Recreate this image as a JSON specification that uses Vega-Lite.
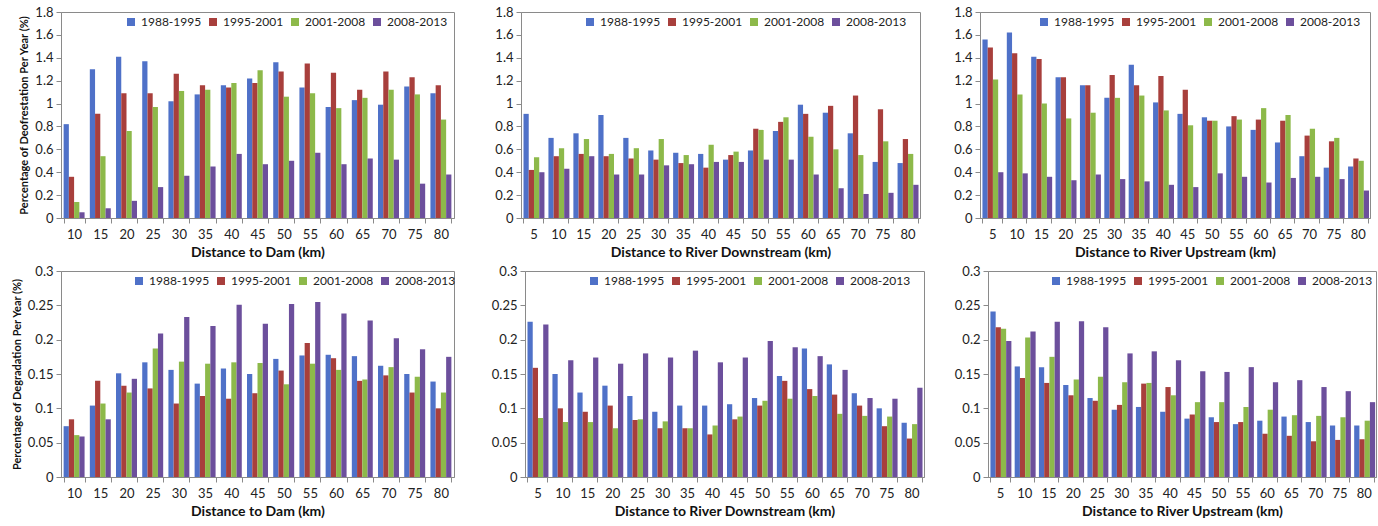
{
"$schema":"https://vega.github.io/schema/vega-lite/v6.json",
"padding":{"left":10,"top":5,"right":2,"bottom":5},
"datasets":{
"dam_def":[
{"d":10,"p":"1988-1995","v":0.82},{"d":10,"p":"1995-2001","v":0.36},{"d":10,"p":"2001-2008","v":0.14},{"d":10,"p":"2008-2013","v":0.05},
{"d":15,"p":"1988-1995","v":1.30},{"d":15,"p":"1995-2001","v":0.91},{"d":15,"p":"2001-2008","v":0.54},{"d":15,"p":"2008-2013","v":0.085},
{"d":20,"p":"1988-1995","v":1.41},{"d":20,"p":"1995-2001","v":1.09},{"d":20,"p":"2001-2008","v":0.76},{"d":20,"p":"2008-2013","v":0.15},
{"d":25,"p":"1988-1995","v":1.37},{"d":25,"p":"1995-2001","v":1.09},{"d":25,"p":"2001-2008","v":0.97},{"d":25,"p":"2008-2013","v":0.27},
{"d":30,"p":"1988-1995","v":1.02},{"d":30,"p":"1995-2001","v":1.26},{"d":30,"p":"2001-2008","v":1.11},{"d":30,"p":"2008-2013","v":0.37},
{"d":35,"p":"1988-1995","v":1.08},{"d":35,"p":"1995-2001","v":1.16},{"d":35,"p":"2001-2008","v":1.12},{"d":35,"p":"2008-2013","v":0.45},
{"d":40,"p":"1988-1995","v":1.16},{"d":40,"p":"1995-2001","v":1.14},{"d":40,"p":"2001-2008","v":1.18},{"d":40,"p":"2008-2013","v":0.56},
{"d":45,"p":"1988-1995","v":1.22},{"d":45,"p":"1995-2001","v":1.18},{"d":45,"p":"2001-2008","v":1.29},{"d":45,"p":"2008-2013","v":0.47},
{"d":50,"p":"1988-1995","v":1.36},{"d":50,"p":"1995-2001","v":1.28},{"d":50,"p":"2001-2008","v":1.06},{"d":50,"p":"2008-2013","v":0.50},
{"d":55,"p":"1988-1995","v":1.14},{"d":55,"p":"1995-2001","v":1.35},{"d":55,"p":"2001-2008","v":1.09},{"d":55,"p":"2008-2013","v":0.57},
{"d":60,"p":"1988-1995","v":0.97},{"d":60,"p":"1995-2001","v":1.27},{"d":60,"p":"2001-2008","v":0.96},{"d":60,"p":"2008-2013","v":0.47},
{"d":65,"p":"1988-1995","v":1.03},{"d":65,"p":"1995-2001","v":1.12},{"d":65,"p":"2001-2008","v":1.05},{"d":65,"p":"2008-2013","v":0.52},
{"d":70,"p":"1988-1995","v":0.99},{"d":70,"p":"1995-2001","v":1.28},{"d":70,"p":"2001-2008","v":1.12},{"d":70,"p":"2008-2013","v":0.51},
{"d":75,"p":"1988-1995","v":1.15},{"d":75,"p":"1995-2001","v":1.23},{"d":75,"p":"2001-2008","v":1.08},{"d":75,"p":"2008-2013","v":0.30},
{"d":80,"p":"1988-1995","v":1.09},{"d":80,"p":"1995-2001","v":1.16},{"d":80,"p":"2001-2008","v":0.86},{"d":80,"p":"2008-2013","v":0.38}
],
"down_def":[
{"d":5,"p":"1988-1995","v":0.91},{"d":5,"p":"1995-2001","v":0.42},{"d":5,"p":"2001-2008","v":0.53},{"d":5,"p":"2008-2013","v":0.40},
{"d":10,"p":"1988-1995","v":0.70},{"d":10,"p":"1995-2001","v":0.54},{"d":10,"p":"2001-2008","v":0.61},{"d":10,"p":"2008-2013","v":0.43},
{"d":15,"p":"1988-1995","v":0.74},{"d":15,"p":"1995-2001","v":0.56},{"d":15,"p":"2001-2008","v":0.69},{"d":15,"p":"2008-2013","v":0.54},
{"d":20,"p":"1988-1995","v":0.90},{"d":20,"p":"1995-2001","v":0.54},{"d":20,"p":"2001-2008","v":0.56},{"d":20,"p":"2008-2013","v":0.38},
{"d":25,"p":"1988-1995","v":0.70},{"d":25,"p":"1995-2001","v":0.52},{"d":25,"p":"2001-2008","v":0.61},{"d":25,"p":"2008-2013","v":0.38},
{"d":30,"p":"1988-1995","v":0.59},{"d":30,"p":"1995-2001","v":0.51},{"d":30,"p":"2001-2008","v":0.69},{"d":30,"p":"2008-2013","v":0.46},
{"d":35,"p":"1988-1995","v":0.57},{"d":35,"p":"1995-2001","v":0.48},{"d":35,"p":"2001-2008","v":0.55},{"d":35,"p":"2008-2013","v":0.47},
{"d":40,"p":"1988-1995","v":0.56},{"d":40,"p":"1995-2001","v":0.44},{"d":40,"p":"2001-2008","v":0.64},{"d":40,"p":"2008-2013","v":0.49},
{"d":45,"p":"1988-1995","v":0.51},{"d":45,"p":"1995-2001","v":0.55},{"d":45,"p":"2001-2008","v":0.58},{"d":45,"p":"2008-2013","v":0.49},
{"d":50,"p":"1988-1995","v":0.59},{"d":50,"p":"1995-2001","v":0.78},{"d":50,"p":"2001-2008","v":0.77},{"d":50,"p":"2008-2013","v":0.51},
{"d":55,"p":"1988-1995","v":0.76},{"d":55,"p":"1995-2001","v":0.84},{"d":55,"p":"2001-2008","v":0.88},{"d":55,"p":"2008-2013","v":0.51},
{"d":60,"p":"1988-1995","v":0.99},{"d":60,"p":"1995-2001","v":0.91},{"d":60,"p":"2001-2008","v":0.71},{"d":60,"p":"2008-2013","v":0.38},
{"d":65,"p":"1988-1995","v":0.92},{"d":65,"p":"1995-2001","v":0.98},{"d":65,"p":"2001-2008","v":0.60},{"d":65,"p":"2008-2013","v":0.26},
{"d":70,"p":"1988-1995","v":0.74},{"d":70,"p":"1995-2001","v":1.07},{"d":70,"p":"2001-2008","v":0.55},{"d":70,"p":"2008-2013","v":0.21},
{"d":75,"p":"1988-1995","v":0.49},{"d":75,"p":"1995-2001","v":0.95},{"d":75,"p":"2001-2008","v":0.67},{"d":75,"p":"2008-2013","v":0.22},
{"d":80,"p":"1988-1995","v":0.48},{"d":80,"p":"1995-2001","v":0.69},{"d":80,"p":"2001-2008","v":0.56},{"d":80,"p":"2008-2013","v":0.29}
],
"up_def":[
{"d":5,"p":"1988-1995","v":1.56},{"d":5,"p":"1995-2001","v":1.49},{"d":5,"p":"2001-2008","v":1.21},{"d":5,"p":"2008-2013","v":0.40},
{"d":10,"p":"1988-1995","v":1.62},{"d":10,"p":"1995-2001","v":1.44},{"d":10,"p":"2001-2008","v":1.08},{"d":10,"p":"2008-2013","v":0.39},
{"d":15,"p":"1988-1995","v":1.41},{"d":15,"p":"1995-2001","v":1.39},{"d":15,"p":"2001-2008","v":1.00},{"d":15,"p":"2008-2013","v":0.36},
{"d":20,"p":"1988-1995","v":1.23},{"d":20,"p":"1995-2001","v":1.23},{"d":20,"p":"2001-2008","v":0.87},{"d":20,"p":"2008-2013","v":0.33},
{"d":25,"p":"1988-1995","v":1.16},{"d":25,"p":"1995-2001","v":1.16},{"d":25,"p":"2001-2008","v":0.92},{"d":25,"p":"2008-2013","v":0.38},
{"d":30,"p":"1988-1995","v":1.05},{"d":30,"p":"1995-2001","v":1.25},{"d":30,"p":"2001-2008","v":1.05},{"d":30,"p":"2008-2013","v":0.34},
{"d":35,"p":"1988-1995","v":1.34},{"d":35,"p":"1995-2001","v":1.16},{"d":35,"p":"2001-2008","v":1.07},{"d":35,"p":"2008-2013","v":0.32},
{"d":40,"p":"1988-1995","v":1.01},{"d":40,"p":"1995-2001","v":1.24},{"d":40,"p":"2001-2008","v":0.94},{"d":40,"p":"2008-2013","v":0.29},
{"d":45,"p":"1988-1995","v":0.91},{"d":45,"p":"1995-2001","v":1.12},{"d":45,"p":"2001-2008","v":0.81},{"d":45,"p":"2008-2013","v":0.27},
{"d":50,"p":"1988-1995","v":0.88},{"d":50,"p":"1995-2001","v":0.85},{"d":50,"p":"2001-2008","v":0.85},{"d":50,"p":"2008-2013","v":0.39},
{"d":55,"p":"1988-1995","v":0.80},{"d":55,"p":"1995-2001","v":0.89},{"d":55,"p":"2001-2008","v":0.86},{"d":55,"p":"2008-2013","v":0.36},
{"d":60,"p":"1988-1995","v":0.77},{"d":60,"p":"1995-2001","v":0.86},{"d":60,"p":"2001-2008","v":0.96},{"d":60,"p":"2008-2013","v":0.31},
{"d":65,"p":"1988-1995","v":0.66},{"d":65,"p":"1995-2001","v":0.85},{"d":65,"p":"2001-2008","v":0.90},{"d":65,"p":"2008-2013","v":0.35},
{"d":70,"p":"1988-1995","v":0.54},{"d":70,"p":"1995-2001","v":0.72},{"d":70,"p":"2001-2008","v":0.78},{"d":70,"p":"2008-2013","v":0.36},
{"d":75,"p":"1988-1995","v":0.44},{"d":75,"p":"1995-2001","v":0.67},{"d":75,"p":"2001-2008","v":0.70},{"d":75,"p":"2008-2013","v":0.34},
{"d":80,"p":"1988-1995","v":0.45},{"d":80,"p":"1995-2001","v":0.52},{"d":80,"p":"2001-2008","v":0.50},{"d":80,"p":"2008-2013","v":0.24}
],
"dam_deg":[
{"d":10,"p":"1988-1995","v":0.074},{"d":10,"p":"1995-2001","v":0.084},{"d":10,"p":"2001-2008","v":0.061},{"d":10,"p":"2008-2013","v":0.059},
{"d":15,"p":"1988-1995","v":0.104},{"d":15,"p":"1995-2001","v":0.140},{"d":15,"p":"2001-2008","v":0.107},{"d":15,"p":"2008-2013","v":0.084},
{"d":20,"p":"1988-1995","v":0.151},{"d":20,"p":"1995-2001","v":0.133},{"d":20,"p":"2001-2008","v":0.123},{"d":20,"p":"2008-2013","v":0.143},
{"d":25,"p":"1988-1995","v":0.167},{"d":25,"p":"1995-2001","v":0.129},{"d":25,"p":"2001-2008","v":0.187},{"d":25,"p":"2008-2013","v":0.209},
{"d":30,"p":"1988-1995","v":0.156},{"d":30,"p":"1995-2001","v":0.107},{"d":30,"p":"2001-2008","v":0.168},{"d":30,"p":"2008-2013","v":0.233},
{"d":35,"p":"1988-1995","v":0.136},{"d":35,"p":"1995-2001","v":0.118},{"d":35,"p":"2001-2008","v":0.165},{"d":35,"p":"2008-2013","v":0.220},
{"d":40,"p":"1988-1995","v":0.158},{"d":40,"p":"1995-2001","v":0.114},{"d":40,"p":"2001-2008","v":0.167},{"d":40,"p":"2008-2013","v":0.251},
{"d":45,"p":"1988-1995","v":0.150},{"d":45,"p":"1995-2001","v":0.122},{"d":45,"p":"2001-2008","v":0.166},{"d":45,"p":"2008-2013","v":0.223},
{"d":50,"p":"1988-1995","v":0.172},{"d":50,"p":"1995-2001","v":0.155},{"d":50,"p":"2001-2008","v":0.135},{"d":50,"p":"2008-2013","v":0.252},
{"d":55,"p":"1988-1995","v":0.177},{"d":55,"p":"1995-2001","v":0.195},{"d":55,"p":"2001-2008","v":0.165},{"d":55,"p":"2008-2013","v":0.255},
{"d":60,"p":"1988-1995","v":0.178},{"d":60,"p":"1995-2001","v":0.173},{"d":60,"p":"2001-2008","v":0.156},{"d":60,"p":"2008-2013","v":0.238},
{"d":65,"p":"1988-1995","v":0.176},{"d":65,"p":"1995-2001","v":0.140},{"d":65,"p":"2001-2008","v":0.142},{"d":65,"p":"2008-2013","v":0.228},
{"d":70,"p":"1988-1995","v":0.162},{"d":70,"p":"1995-2001","v":0.148},{"d":70,"p":"2001-2008","v":0.160},{"d":70,"p":"2008-2013","v":0.202},
{"d":75,"p":"1988-1995","v":0.150},{"d":75,"p":"1995-2001","v":0.123},{"d":75,"p":"2001-2008","v":0.146},{"d":75,"p":"2008-2013","v":0.186},
{"d":80,"p":"1988-1995","v":0.139},{"d":80,"p":"1995-2001","v":0.100},{"d":80,"p":"2001-2008","v":0.123},{"d":80,"p":"2008-2013","v":0.175}
],
"down_deg":[
{"d":5,"p":"1988-1995","v":0.226},{"d":5,"p":"1995-2001","v":0.159},{"d":5,"p":"2001-2008","v":0.086},{"d":5,"p":"2008-2013","v":0.222},
{"d":10,"p":"1988-1995","v":0.150},{"d":10,"p":"1995-2001","v":0.100},{"d":10,"p":"2001-2008","v":0.080},{"d":10,"p":"2008-2013","v":0.170},
{"d":15,"p":"1988-1995","v":0.123},{"d":15,"p":"1995-2001","v":0.095},{"d":15,"p":"2001-2008","v":0.080},{"d":15,"p":"2008-2013","v":0.174},
{"d":20,"p":"1988-1995","v":0.133},{"d":20,"p":"1995-2001","v":0.104},{"d":20,"p":"2001-2008","v":0.071},{"d":20,"p":"2008-2013","v":0.165},
{"d":25,"p":"1988-1995","v":0.118},{"d":25,"p":"1995-2001","v":0.083},{"d":25,"p":"2001-2008","v":0.084},{"d":25,"p":"2008-2013","v":0.180},
{"d":30,"p":"1988-1995","v":0.095},{"d":30,"p":"1995-2001","v":0.071},{"d":30,"p":"2001-2008","v":0.081},{"d":30,"p":"2008-2013","v":0.174},
{"d":35,"p":"1988-1995","v":0.104},{"d":35,"p":"1995-2001","v":0.071},{"d":35,"p":"2001-2008","v":0.071},{"d":35,"p":"2008-2013","v":0.184},
{"d":40,"p":"1988-1995","v":0.104},{"d":40,"p":"1995-2001","v":0.062},{"d":40,"p":"2001-2008","v":0.075},{"d":40,"p":"2008-2013","v":0.167},
{"d":45,"p":"1988-1995","v":0.106},{"d":45,"p":"1995-2001","v":0.084},{"d":45,"p":"2001-2008","v":0.088},{"d":45,"p":"2008-2013","v":0.174},
{"d":50,"p":"1988-1995","v":0.115},{"d":50,"p":"1995-2001","v":0.104},{"d":50,"p":"2001-2008","v":0.111},{"d":50,"p":"2008-2013","v":0.198},
{"d":55,"p":"1988-1995","v":0.147},{"d":55,"p":"1995-2001","v":0.140},{"d":55,"p":"2001-2008","v":0.114},{"d":55,"p":"2008-2013","v":0.189},
{"d":60,"p":"1988-1995","v":0.187},{"d":60,"p":"1995-2001","v":0.128},{"d":60,"p":"2001-2008","v":0.118},{"d":60,"p":"2008-2013","v":0.176},
{"d":65,"p":"1988-1995","v":0.164},{"d":65,"p":"1995-2001","v":0.120},{"d":65,"p":"2001-2008","v":0.092},{"d":65,"p":"2008-2013","v":0.156},
{"d":70,"p":"1988-1995","v":0.122},{"d":70,"p":"1995-2001","v":0.104},{"d":70,"p":"2001-2008","v":0.089},{"d":70,"p":"2008-2013","v":0.115},
{"d":75,"p":"1988-1995","v":0.100},{"d":75,"p":"1995-2001","v":0.074},{"d":75,"p":"2001-2008","v":0.088},{"d":75,"p":"2008-2013","v":0.114},
{"d":80,"p":"1988-1995","v":0.079},{"d":80,"p":"1995-2001","v":0.056},{"d":80,"p":"2001-2008","v":0.077},{"d":80,"p":"2008-2013","v":0.130}
],
"up_deg":[
{"d":5,"p":"1988-1995","v":0.241},{"d":5,"p":"1995-2001","v":0.218},{"d":5,"p":"2001-2008","v":0.216},{"d":5,"p":"2008-2013","v":0.198},
{"d":10,"p":"1988-1995","v":0.161},{"d":10,"p":"1995-2001","v":0.144},{"d":10,"p":"2001-2008","v":0.203},{"d":10,"p":"2008-2013","v":0.212},
{"d":15,"p":"1988-1995","v":0.160},{"d":15,"p":"1995-2001","v":0.137},{"d":15,"p":"2001-2008","v":0.175},{"d":15,"p":"2008-2013","v":0.226},
{"d":20,"p":"1988-1995","v":0.134},{"d":20,"p":"1995-2001","v":0.119},{"d":20,"p":"2001-2008","v":0.142},{"d":20,"p":"2008-2013","v":0.227},
{"d":25,"p":"1988-1995","v":0.115},{"d":25,"p":"1995-2001","v":0.111},{"d":25,"p":"2001-2008","v":0.146},{"d":25,"p":"2008-2013","v":0.218},
{"d":30,"p":"1988-1995","v":0.098},{"d":30,"p":"1995-2001","v":0.105},{"d":30,"p":"2001-2008","v":0.138},{"d":30,"p":"2008-2013","v":0.180},
{"d":35,"p":"1988-1995","v":0.102},{"d":35,"p":"1995-2001","v":0.136},{"d":35,"p":"2001-2008","v":0.137},{"d":35,"p":"2008-2013","v":0.183},
{"d":40,"p":"1988-1995","v":0.095},{"d":40,"p":"1995-2001","v":0.131},{"d":40,"p":"2001-2008","v":0.119},{"d":40,"p":"2008-2013","v":0.170},
{"d":45,"p":"1988-1995","v":0.085},{"d":45,"p":"1995-2001","v":0.091},{"d":45,"p":"2001-2008","v":0.109},{"d":45,"p":"2008-2013","v":0.154},
{"d":50,"p":"1988-1995","v":0.087},{"d":50,"p":"1995-2001","v":0.080},{"d":50,"p":"2001-2008","v":0.109},{"d":50,"p":"2008-2013","v":0.153},
{"d":55,"p":"1988-1995","v":0.077},{"d":55,"p":"1995-2001","v":0.080},{"d":55,"p":"2001-2008","v":0.102},{"d":55,"p":"2008-2013","v":0.160},
{"d":60,"p":"1988-1995","v":0.082},{"d":60,"p":"1995-2001","v":0.063},{"d":60,"p":"2001-2008","v":0.098},{"d":60,"p":"2008-2013","v":0.138},
{"d":65,"p":"1988-1995","v":0.088},{"d":65,"p":"1995-2001","v":0.060},{"d":65,"p":"2001-2008","v":0.090},{"d":65,"p":"2008-2013","v":0.141},
{"d":70,"p":"1988-1995","v":0.080},{"d":70,"p":"1995-2001","v":0.052},{"d":70,"p":"2001-2008","v":0.089},{"d":70,"p":"2008-2013","v":0.131},
{"d":75,"p":"1988-1995","v":0.075},{"d":75,"p":"1995-2001","v":0.054},{"d":75,"p":"2001-2008","v":0.087},{"d":75,"p":"2008-2013","v":0.125},
{"d":80,"p":"1988-1995","v":0.075},{"d":80,"p":"1995-2001","v":0.055},{"d":80,"p":"2001-2008","v":0.082},{"d":80,"p":"2008-2013","v":0.109}
]
},
"vconcat":[
{"hconcat":[
{"width":393,"height":206,"data":{"name":"dam_def"},"mark":{"type":"bar"},
"encoding":{
"x":{"field":"d","type":"ordinal","title":"Distance to Dam (km)","scale":{"paddingInner":0.2,"paddingOuter":0.1}},
"xOffset":{"field":"p","type":"nominal","scale":{"paddingInner":0,"paddingOuter":0}},
"y":{"field":"v","type":"quantitative","scale":{"domain":[0,1.8],"nice":false},"axis":{"values":[0,0.2,0.4,0.6,0.8,1,1.2,1.4,1.6,1.8],"format":".2~f"},"title":"Percentage of Deofrestation Per Year (%)"},
"color":{"field":"p","type":"nominal","scale":{"domain":["1988-1995","1995-2001","2001-2008","2008-2013"],"range":["#4f71c8","#a83f3c","#8db94a","#6c4f9c"]},"legend":{"title":null,"orient":"none","legendX":64,"legendY":4}}
}},
{"hconcat":[
{"width":399,"height":206,"data":{"name":"down_def"},"mark":{"type":"bar"},
"encoding":{
"x":{"field":"d","type":"ordinal","title":"Distance to River Downstream  (km)","scale":{"paddingInner":0.2,"paddingOuter":0.1}},
"xOffset":{"field":"p","type":"nominal","scale":{"paddingInner":0,"paddingOuter":0}},
"y":{"field":"v","type":"quantitative","scale":{"domain":[0,1.8],"nice":false},"axis":{"values":[0,0.2,0.4,0.6,0.8,1,1.2,1.4,1.6,1.8],"format":".2~f"},"title":null},
"color":{"field":"p","type":"nominal","scale":{"domain":["1988-1995","1995-2001","2001-2008","2008-2013"],"range":["#4f71c8","#a83f3c","#8db94a","#6c4f9c"]},"legend":{"title":null,"orient":"none","legendX":63,"legendY":4}}
}},
{"width":390,"height":206,"data":{"name":"up_def"},"mark":{"type":"bar"},
"encoding":{
"x":{"field":"d","type":"ordinal","title":"Distance to River Upstream  (km)","scale":{"paddingInner":0.2,"paddingOuter":0.1}},
"xOffset":{"field":"p","type":"nominal","scale":{"paddingInner":0,"paddingOuter":0}},
"y":{"field":"v","type":"quantitative","scale":{"domain":[0,1.8],"nice":false},"axis":{"values":[0,0.2,0.4,0.6,0.8,1,1.2,1.4,1.6,1.8],"format":".2~f"},"title":null},
"color":{"field":"p","type":"nominal","scale":{"domain":["1988-1995","1995-2001","2001-2008","2008-2013"],"range":["#4f71c8","#a83f3c","#8db94a","#6c4f9c"]},"legend":{"title":null,"orient":"none","legendX":58,"legendY":4}}
}}
],"spacing":32,"resolve":{"scale":{"color":"independent"},"legend":{"color":"independent"}}}
],"spacing":39,"resolve":{"scale":{"color":"independent"},"legend":{"color":"independent"}}},
{"hconcat":[
{"width":393,"height":206,"data":{"name":"dam_deg"},"mark":{"type":"bar"},
"encoding":{
"x":{"field":"d","type":"ordinal","title":"Distance to Dam (km)","scale":{"paddingInner":0.2,"paddingOuter":0.1}},
"xOffset":{"field":"p","type":"nominal","scale":{"paddingInner":0,"paddingOuter":0}},
"y":{"field":"v","type":"quantitative","scale":{"domain":[0,0.3],"nice":false},"axis":{"values":[0,0.05,0.1,0.15,0.2,0.25,0.3],"format":".2~f"},"title":"Percentage of Degradation Per Year (%)"},
"color":{"field":"p","type":"nominal","scale":{"domain":["1988-1995","1995-2001","2001-2008","2008-2013"],"range":["#4f71c8","#a83f3c","#8db94a","#6c4f9c"]},"legend":{"title":null,"orient":"none","legendX":72,"legendY":4}}
}},
{"hconcat":[
{"width":399,"height":206,"data":{"name":"down_deg"},"mark":{"type":"bar"},
"encoding":{
"x":{"field":"d","type":"ordinal","title":"Distance to River Downstream  (km)","scale":{"paddingInner":0.2,"paddingOuter":0.1}},
"xOffset":{"field":"p","type":"nominal","scale":{"paddingInner":0,"paddingOuter":0}},
"y":{"field":"v","type":"quantitative","scale":{"domain":[0,0.3],"nice":false},"axis":{"values":[0,0.05,0.1,0.15,0.2,0.25,0.3],"format":".2~f"},"title":null},
"color":{"field":"p","type":"nominal","scale":{"domain":["1988-1995","1995-2001","2001-2008","2008-2013"],"range":["#4f71c8","#a83f3c","#8db94a","#6c4f9c"]},"legend":{"title":null,"orient":"none","legendX":63,"legendY":4}}
}},
{"width":388,"height":206,"data":{"name":"up_deg"},"mark":{"type":"bar"},
"encoding":{
"x":{"field":"d","type":"ordinal","title":"Distance to River Upstream  (km)","scale":{"paddingInner":0.2,"paddingOuter":0.1}},
"xOffset":{"field":"p","type":"nominal","scale":{"paddingInner":0,"paddingOuter":0}},
"y":{"field":"v","type":"quantitative","scale":{"domain":[0,0.3],"nice":false},"axis":{"values":[0,0.05,0.1,0.15,0.2,0.25,0.3],"format":".2~f"},"title":null},
"color":{"field":"p","type":"nominal","scale":{"domain":["1988-1995","1995-2001","2001-2008","2008-2013"],"range":["#4f71c8","#a83f3c","#8db94a","#6c4f9c"]},"legend":{"title":null,"orient":"none","legendX":62,"legendY":4}}
}}
],"spacing":28,"resolve":{"scale":{"color":"independent"},"legend":{"color":"independent"}}}
],"spacing":33,"resolve":{"scale":{"color":"independent"},"legend":{"color":"independent"}}}
],
"spacing":4,
"resolve":{"scale":{"color":"independent"},"legend":{"color":"independent"}},
"config":{
"view":{"stroke":"#8a8a8a","strokeWidth":1},
"axis":{"grid":false,"domainColor":"#8a8a8a","tickColor":"#8a8a8a","tickSize":5,"labelFont":"Lato","labelFontSize":13,"labelColor":"#222222","titleFont":"Lato","titleFontWeight":"bold","titleColor":"#111111"},
"axisX":{"labelAngle":0,"tickBand":"extent","titleFontSize":14,"labelPadding":5,"titlePadding":4},
"axisY":{"titleFontSize":11,"labelPadding":3,"titlePadding":5},
"legend":{"direction":"horizontal","symbolType":"square","symbolSize":64,"symbolStrokeWidth":0,"labelFont":"Lato","labelFontSize":12,"labelColor":"#222222","labelOffset":4,"columnPadding":5}
}
}
